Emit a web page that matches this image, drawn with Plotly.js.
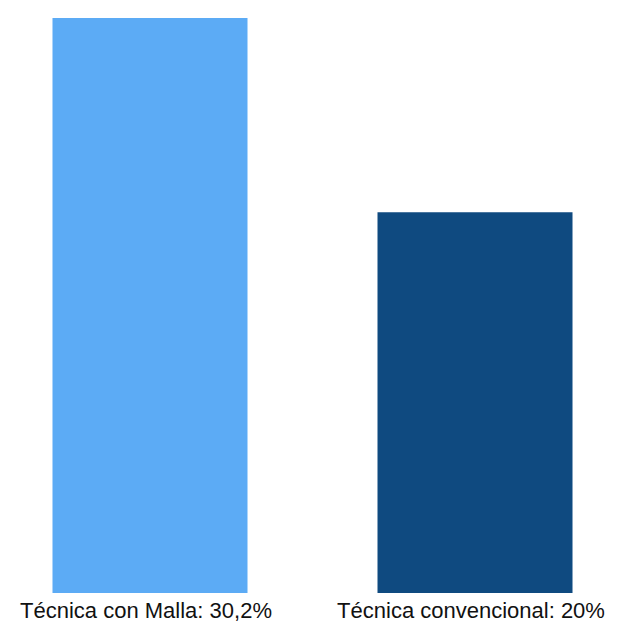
<!DOCTYPE html>
<html>
<head>
<meta charset="utf-8">
<script src="https://cdn.plot.ly/plotly-3.0.1.min.js"></script>
<style>html,body{margin:0;padding:0;background:#fff;}#chart{width:617px;height:623px;}</style>
</head>
<body>
<div id="chart"></div>
<script>
const categories = ["Técnica con Malla", "Técnica convencional"];
const values = [30.2, 20];
const tickLabels = ["Técnica con Malla: 30,2%", "Técnica convencional: 20%"];
const barColors = ["#5CABF5", "#0F4A80"];

const xs = categories.map((c, i) => i);
const trace = {
  type: "bar",
  x: xs,
  y: values,
  width: 0.6,
  marker: {color: barColors},
  hoverinfo: "none"
};
const layout = {
  width: 617, height: 623,
  margin: {l: 0, r: 0, t: 18, b: 30, pad: 0},
  paper_bgcolor: "#fff", plot_bgcolor: "#fff",
  showlegend: false,
  xaxis: {
    range: [-0.4615, 1.4369],
    tickmode: "array", tickvals: xs, ticktext: tickLabels,
    showgrid: false, zeroline: false, showline: false, ticks: "",
    ticklabelstandoff: 2,
    ticklabelshift: -4,
    tickfont: {family: "Liberation Sans, Arial, sans-serif", size: 22, color: "#111"},
    fixedrange: true
  },
  yaxis: {
    range: [0, 30.2],
    visible: false, showgrid: false, zeroline: false,
    fixedrange: true
  }
};
Plotly.newPlot("chart", [trace], layout, {staticPlot: true});
</script>
</body>
</html>
